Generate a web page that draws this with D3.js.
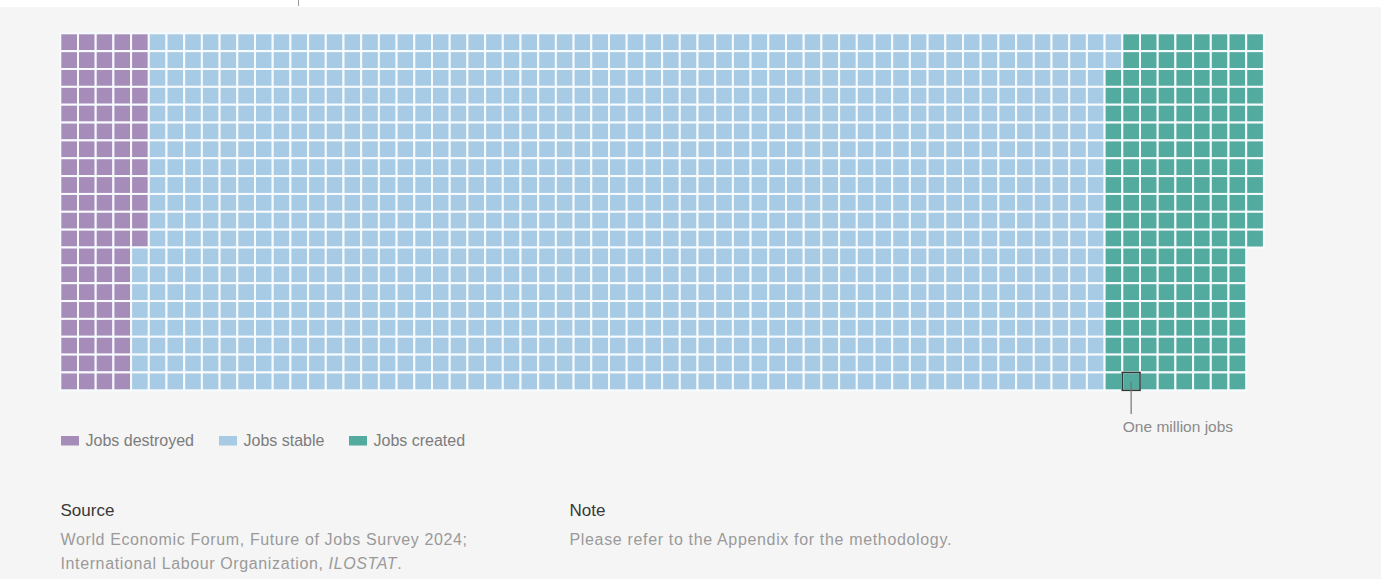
<!DOCTYPE html>
<html>
<head>
<meta charset="utf-8">
<script src="https://cdn.jsdelivr.net/npm/d3@7"></script>
<style>
  html, body { margin: 0; padding: 0; background: #f5f5f5; }
  svg { display: block; }
  text { font-family: "Liberation Sans", Arial, Helvetica, sans-serif; }
</style>
</head>
<body>
<svg id="chart" width="1381" height="579"></svg>
<script>
// Jobs in millions, one waffle cell per million jobs, filled column by column
const categories = ["Jobs destroyed", "Jobs stable", "Jobs created"];
const jobsMillions = [92, 1090, 170];
const categoryColors = ["#a68cb9", "#a7cbe4", "#53aa9f"];
const rowsPerColumn = 20;
const unitLabel = "One million jobs";
const unitCell = { column: 60, row: 19 };

const sourceTitle = "Source";
const sourceLines = ["World Economic Forum, Future of Jobs Survey 2024;", "International Labour Organization, "];
const sourceItalic = "ILOSTAT";
const noteTitle = "Note";
const noteLines = ["Please refer to the Appendix for the methodology."];

const svg = d3.select("#chart");
const W = 1381, H = 579;

svg.append("rect").attr("width", W).attr("height", H).attr("fill", "#f5f5f5");
// thin white strip along the top edge
svg.append("rect").attr("width", W).attr("height", 7).attr("fill", "#ffffff");
svg.append("line").attr("x1", 298.5).attr("x2", 298.5).attr("y1", 0).attr("y2", 6)
  .attr("stroke", "#9a9a9a").attr("stroke-width", 1);

// build the cell list
const cells = [];
let idx = 0;
categories.forEach((c, ci) => {
  for (let k = 0; k < jobsMillions[ci]; k++, idx++) {
    cells.push({ cat: c, ci, col: Math.floor(idx / rowsPerColumn), row: idx % rowsPerColumn });
  }
});
const nCols = Math.ceil(idx / rowsPerColumn);

const x = d3.scaleLinear().domain([0, nCols]).range([60.3, 60.3 + nCols * 17.7]);
const y = d3.scaleLinear().domain([0, rowsPerColumn]).range([33.3, 33.3 + rowsPerColumn * 17.85]);
const color = d3.scaleOrdinal().domain(categories).range(categoryColors);

const g = svg.append("g");
g.selectAll("rect.cell")
  .data(cells)
  .join("rect")
  .attr("class", "cell")
  .attr("x", d => x(d.col))
  .attr("y", d => y(d.row))
  .attr("width", d => x(d.col + 1) - x(d.col))
  .attr("height", d => y(d.row + 1) - y(d.row))
  .attr("fill", d => color(d.cat))
  .attr("stroke", "#f7fbfd")
  .attr("stroke-width", 2);

// unit callout
const u = unitCell;
const cx = (x(u.column) + x(u.column + 1)) / 2;
const cy = (y(u.row) + y(u.row + 1)) / 2;
svg.append("rect")
  .attr("x", x(u.column))
  .attr("y", y(u.row))
  .attr("width", x(u.column + 1) - x(u.column))
  .attr("height", y(u.row + 1) - y(u.row))
  .attr("fill", "none")
  .attr("stroke", "#2c3b39")
  .attr("stroke-width", 1.6);
svg.append("line")
  .attr("x1", cx).attr("x2", cx)
  .attr("y1", cy).attr("y2", 414)
  .attr("stroke", "#6f7776").attr("stroke-width", 1.2);
svg.append("text")
  .attr("x", x(u.column) + 0.5).attr("y", 432)
  .attr("font-size", 15.5).attr("fill", "#8a8a8a")
  .text(unitLabel);

// legend
const legendX = [61, 219, 349];
const legend = svg.append("g");
categories.forEach((c, i) => {
  legend.append("rect")
    .attr("x", legendX[i]).attr("y", 436)
    .attr("width", 18).attr("height", 9.5)
    .attr("fill", categoryColors[i]);
  legend.append("text")
    .attr("x", legendX[i] + 24.5).attr("y", 446)
    .attr("font-size", 16).attr("fill", "#7c7c7c")
    .text(c);
});

// source and note
svg.append("text").attr("x", 60.5).attr("y", 516)
  .attr("font-size", 17).attr("fill", "#383838").text(sourceTitle);
const src = svg.append("text").attr("font-size", 16).attr("fill", "#9a9a9a").attr("letter-spacing", 0.62);
src.append("tspan").attr("x", 60.5).attr("y", 545).text(sourceLines[0]);
src.append("tspan").attr("x", 60.5).attr("y", 569).text(sourceLines[1]);
src.append("tspan").attr("font-style", "italic").text(sourceItalic);
src.append("tspan").text(".");

svg.append("text").attr("x", 569.5).attr("y", 516)
  .attr("font-size", 17).attr("fill", "#383838").text(noteTitle);
svg.append("text").attr("x", 569.5).attr("y", 545)
  .attr("font-size", 16).attr("fill", "#9a9a9a").attr("letter-spacing", 0.66)
  .text(noteLines[0]);
</script>
</body>
</html>
